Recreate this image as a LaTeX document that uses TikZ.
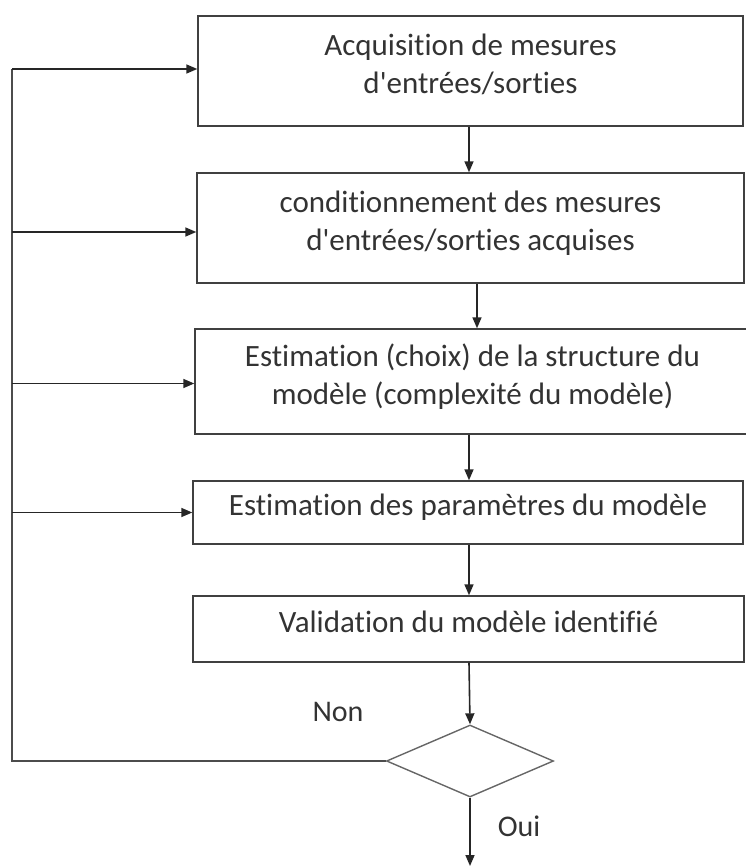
\documentclass[tikz,border=0pt]{standalone}
\usepackage{fontspec}
\setmainfont{Carlito}[Ligatures=NoCommon]
\usetikzlibrary{shapes.geometric,arrows.meta,calc}
\newcommand{\mydn}{\rule[-15pt]{0pt}{0pt}}
\begin{document}
\begin{tikzpicture}[x=1pt,y=-1pt,
  box/.style={draw=black!75,line width=1.4pt,rectangle,align=center,text=black!80,font=\fontsize{31}{38}\selectfont,inner sep=0pt},
  dec/.style={draw=black!60,line width=1.4pt,diamond,minimum width=167pt,minimum height=72pt,inner sep=0pt},
  arr/.style={line width=1.6pt,draw=black!85,-{Triangle[length=11pt,width=9pt]}},
  ln/.style={line width=1.6pt,draw=black!70},
  lbl/.style={text=black!80,font=\fontsize{30}{32}\selectfont}]
\useasboundingbox (0,0) rectangle (745,866);
\node[box,minimum width=545pt,minimum height=110pt] (b1) at (470.5,71) {Acquisition de mesures\\d\textquotesingle entrées/sorties\mydn};
\node[box,minimum width=547pt,minimum height=110pt] (b2) at (470.5,228) {conditionnement des mesures\\d\textquotesingle entrées/sorties acquises\mydn};
\node[box,minimum width=555pt,minimum height=105pt] (b3) at (472.5,381.5) {Estimation (choix) de la structure du\\modèle (complexité du modèle)\mydn};
\node[box,minimum width=550pt,minimum height=63pt] (b4) at (468,512.5) {Estimation des paramètres du modèle\mydn};
\node[box,minimum width=551pt,minimum height=66pt] (b5) at (468.5,629) {Validation du modèle identifié\mydn};
\node[dec] (d) at (470,761) {};
\coordinate (L) at (12,69);
\coordinate (E) at (470,866);
\draw[arr] ([xshift=-1.5pt]b1.south) -- ([xshift=-1.5pt]b1.south |- b2.north);
\draw[arr] ([xshift=6.5pt]b2.south) -- ([xshift=6.5pt]b2.south |- b3.north);
\draw[arr] ([xshift=-3.5pt]b3.south) -- ([xshift=-3.5pt]b3.south |- b4.north);
\draw[arr] ([xshift=1pt]b4.south) -- ([xshift=1pt]b4.south |- b5.north);
\draw[arr] ([xshift=0.5pt]b5.south) -- (d.north);
\draw[arr] (d.south) -- (E);
\draw[ln] (d.west) -- (d.west -| L) -- (L);
\draw[arr] (L) -- (L -| b1.west);
\draw[arr] ([yshift=-4pt]b2.west -| L) -- ([yshift=-4pt]b2.west);
\draw[arr] ([yshift=-2pt]b3.west -| L) -- ([yshift=-2pt]b3.west);
\draw[arr] (b4.west -| L) -- (b4.west);
\node[lbl] (non) at (338,712) {Non};
\node[lbl] (oui) at (519,826) {Oui};
\end{tikzpicture}
\end{document}
